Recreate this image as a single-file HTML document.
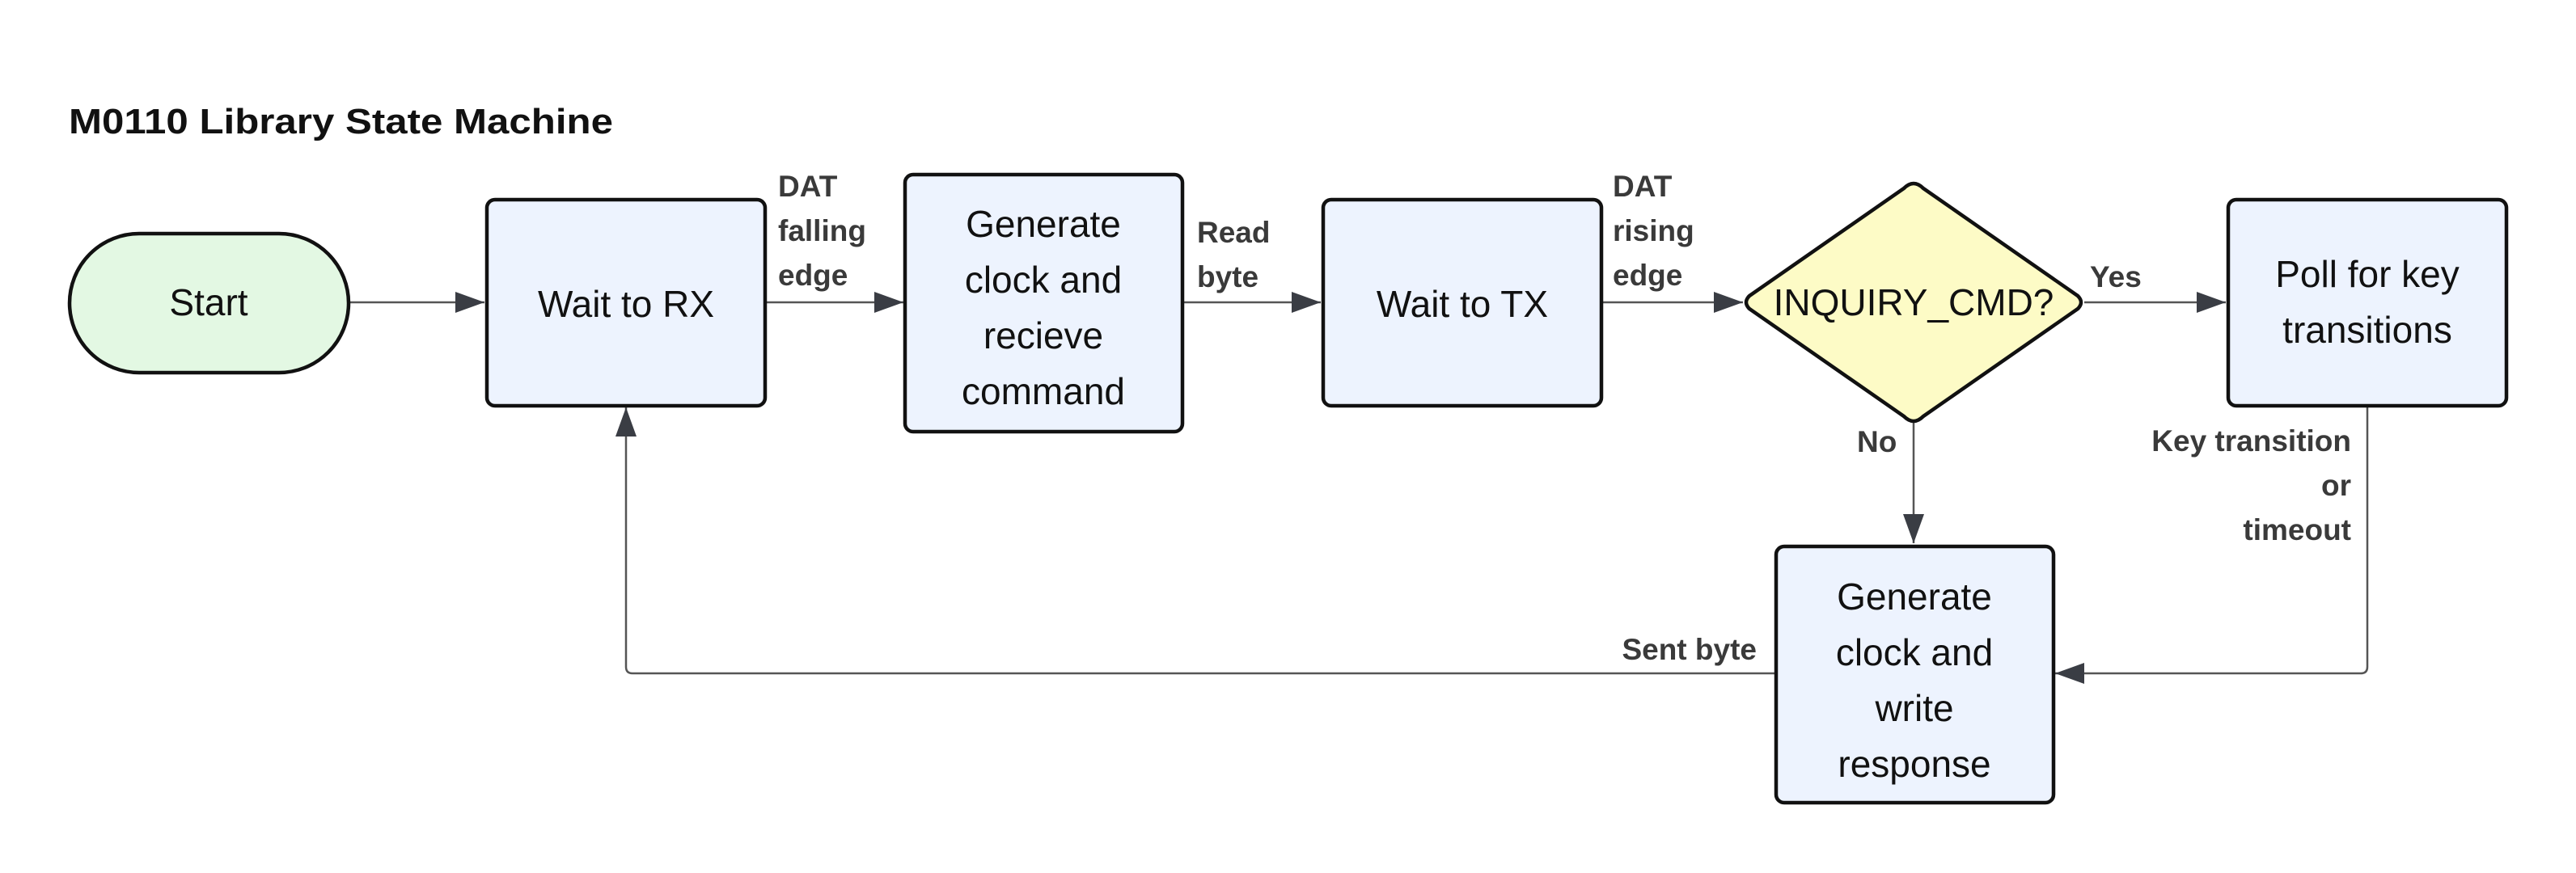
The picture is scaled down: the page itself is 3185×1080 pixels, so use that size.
<!DOCTYPE html>
<html><head><meta charset="utf-8"><style>
html,body{margin:0;padding:0;background:#fff;}
svg{display:block;}
.n{font-family:"Liberation Sans",sans-serif;font-size:46px;fill:#111;text-anchor:middle;}
.l{font-family:"Liberation Sans",sans-serif;font-size:37px;font-weight:bold;fill:#3a3a3a;}
.e{stroke:#555;stroke-width:2.5;fill:none;}
.b{fill:#edf3fe;stroke:#111;stroke-width:4.5;}
</style></head><body>
<svg width="3185" height="1080" viewBox="0 0 3185 1080" xmlns="http://www.w3.org/2000/svg">
<defs>
<marker id="A" viewBox="0 0 10 10" refX="10" refY="5" markerWidth="36" markerHeight="26" markerUnits="userSpaceOnUse" orient="auto" preserveAspectRatio="none"><path d="M0,0 L10,5 L0,10 z" fill="#3a3d44"/></marker></defs>
<text x="85" y="165" font-family="Liberation Sans, sans-serif" font-size="44" font-weight="bold" fill="#111" textLength="673" lengthAdjust="spacingAndGlyphs">M0110 Library State Machine</text>

<path class="e" d="M431,374 H599" marker-end="url(#A)"/>
<path class="e" d="M946,374 H1117" marker-end="url(#A)"/>
<path class="e" d="M1462,374 H1633" marker-end="url(#A)"/>
<path class="e" d="M1980,374 H2155" marker-end="url(#A)"/>
<path class="e" d="M2577,374 H2752" marker-end="url(#A)"/>
<path class="e" d="M2366,522 V672" marker-end="url(#A)"/>
<path class="e" d="M2927,502 V825 Q2927,833 2919,833 H2541" marker-end="url(#A)"/>
<path class="e" d="M2195,833 H782 Q774,833 774,825 V504" marker-end="url(#A)"/>

<rect x="86" y="289" width="345" height="172" rx="86" fill="#e3f8e3" stroke="#111" stroke-width="4.5"/>
<text class="n" x="258" y="390">Start</text>
<rect class="b" x="602" y="247" width="344" height="255" rx="10"/>
<text class="n" x="774" y="392">Wait to RX</text>
<rect class="b" x="1119" y="216" width="343" height="318" rx="10"/>
<text class="n" x="1290" y="293">Generate</text>
<text class="n" x="1290" y="362">clock and</text>
<text class="n" x="1290" y="431">recieve</text>
<text class="n" x="1290" y="500">command</text>
<rect class="b" x="1636" y="247" width="344" height="255" rx="10"/>
<text class="n" x="1808" y="392">Wait to TX</text>
<path d="M2366,227 Q2372,227 2378,233 L2569,366 Q2577,374 2569,382 L2378,515 Q2372,521 2366,521 Q2360,521 2354,515 L2163,382 Q2155,374 2163,366 L2354,233 Q2360,227 2366,227 z" fill="#fdfbc6" stroke="#111" stroke-width="4.5"/>
<text class="n" x="2366" y="390">INQUIRY_CMD?</text>
<rect class="b" x="2755" y="247" width="344" height="255" rx="10"/>
<text class="n" x="2927" y="355">Poll for key</text>
<text class="n" x="2927" y="424">transitions</text>
<rect class="b" x="2196" y="676" width="343" height="317" rx="10"/>
<text class="n" x="2367" y="754">Generate</text>
<text class="n" x="2367" y="823">clock and</text>
<text class="n" x="2367" y="892">write</text>
<text class="n" x="2367" y="961">response</text>

<text class="l" x="962" y="243">DAT</text>
<text class="l" x="962" y="298">falling</text>
<text class="l" x="962" y="353">edge</text>
<text class="l" x="1480" y="300">Read</text>
<text class="l" x="1480" y="355">byte</text>
<text class="l" x="1994" y="243">DAT</text>
<text class="l" x="1994" y="298">rising</text>
<text class="l" x="1994" y="353">edge</text>
<text class="l" x="2584" y="355">Yes</text>
<text class="l" x="2296" y="559">No</text>
<text class="l" x="2907" y="558" text-anchor="end">Key transition</text>
<text class="l" x="2907" y="613" text-anchor="end">or</text>
<text class="l" x="2907" y="668" text-anchor="end">timeout</text>
<text class="l" x="2172" y="816" text-anchor="end">Sent byte</text>
</svg>
</body></html>
